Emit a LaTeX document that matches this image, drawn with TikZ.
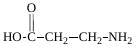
\documentclass[tikz,border=0pt]{standalone}
\usepackage{fontspec}
\setmainfont{Liberation Serif}
\newcommand{\subtwo}{\raisebox{-3.5pt}{\fontsize{10}{10}\selectfont 2}}
\begin{document}
\begin{tikzpicture}[x=1pt,y=1pt,
  atom/.style={inner sep=0pt,outer sep=0pt,anchor=base west,font=\fontsize{13}{15}\selectfont,text height=8.6pt,text depth=0pt},
  bond/.style={line width=0.7pt}]
\useasboundingbox (0,0) rectangle (135,48);
\node[atom] (ho) at (3,6.5) {HO};
\node[atom] (c) at (27.3,6.5) {C};
\node[atom] (ch1) at (45,6.5) {CH\subtwo};
\node[atom] (ch2) at (79,6.5) {CH\subtwo};
\node[atom] (nh) at (108.5,6.5) {NH\subtwo};
\node[atom,anchor=base] (o) at (31.5,35.5) {O};
\draw[bond] ([xshift=1pt]ho.east) -- ([xshift=-1pt]c.west);
\draw[bond] ([xshift=1pt]c.east) -- ([xshift=-1pt]ch1.west);
\draw[bond] ([xshift=1pt]ch1.east) -- ([xshift=-1pt]ch2.west);
\draw[bond] ([xshift=0.5pt]ch2.east) -- ([xshift=-0.5pt]nh.west);
\draw[bond] ([xshift=-1.6pt,yshift=-1.5pt]o.south) -- ([xshift=-1.6pt,yshift=1.5pt]c.north);
\draw[bond] ([xshift=1.6pt,yshift=-1.5pt]o.south) -- ([xshift=1.6pt,yshift=1.5pt]c.north);
\end{tikzpicture}
\end{document}
